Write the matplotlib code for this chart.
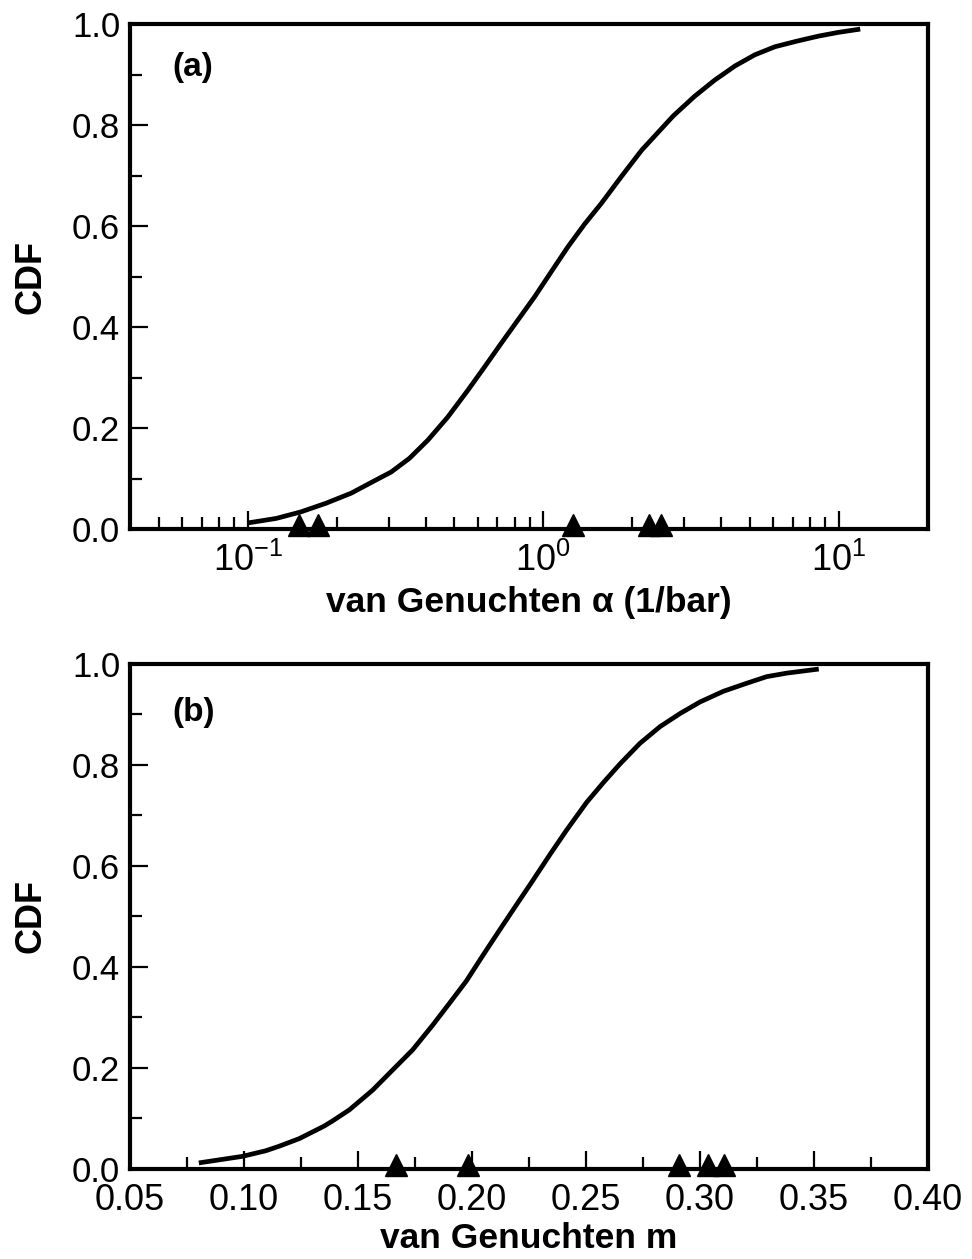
import matplotlib
matplotlib.use("Agg")
import matplotlib.pyplot as plt
from matplotlib.ticker import FixedLocator, MultipleLocator, FormatStrFormatter, LogLocator
from matplotlib.transforms import ScaledTranslation


# panel (a): van Genuchten alpha (1/bar)
alpha_x = [0.100, 0.125, 0.1515, 0.184, 0.224, 0.2616, 0.306, 0.3526, 0.407,
           0.4757, 0.556, 0.633, 0.721, 0.821, 0.935, 1.064, 1.212, 1.38,
           1.572, 1.837, 2.15, 2.75, 3.25, 3.80, 4.45, 5.19, 6.07, 7.19,
           8.51, 9.95, 11.8]
alpha_cdf = [0.012, 0.021, 0.034, 0.051, 0.071, 0.092, 0.113, 0.140, 0.176,
             0.222, 0.275, 0.321, 0.368, 0.414, 0.460, 0.5095, 0.559, 0.604,
             0.645, 0.698, 0.750, 0.818, 0.857, 0.889, 0.917, 0.939, 0.955, 0.966,
             0.976, 0.9835, 0.990]
alpha_obs = [0.149, 0.173, 1.26, 2.27, 2.50]

# panel (b): van Genuchten m
m_x = [0.0802, 0.0993, 0.1095, 0.1154, 0.1242, 0.1352, 0.1388, 0.1462, 0.1564,
       0.1652, 0.174, 0.1828, 0.1901, 0.1975, 0.2048, 0.2121, 0.2195, 0.2268,
       0.2341, 0.2415, 0.2503, 0.2576, 0.2649, 0.2737, 0.2825, 0.2913, 0.3001,
       0.3103, 0.3206, 0.3293, 0.3382, 0.3521]
m_cdf = [0.012, 0.025, 0.036, 0.045, 0.060, 0.085, 0.095, 0.117, 0.156,
         0.196, 0.236, 0.285, 0.328, 0.372, 0.423, 0.473, 0.523, 0.572,
         0.622, 0.671, 0.726, 0.765, 0.802, 0.843, 0.876, 0.902, 0.925,
         0.946, 0.962, 0.975, 0.982, 0.990]
m_obs = [0.1667, 0.1982, 0.2909, 0.3034, 0.3104]

m_ticks = [0.05, 0.10, 0.15, 0.20, 0.25, 0.30, 0.35, 0.40]
cdf_ticks = [0.0, 0.2, 0.4, 0.6, 0.8, 1.0]

plt.rcParams["font.family"] = ["Liberation Sans", "DejaVu Sans"]
plt.rcParams["mathtext.fontset"] = "custom"
plt.rcParams["mathtext.rm"] = "Liberation Sans"


def style_axes(ax):
    for side in ax.spines.values():
        side.set_linewidth(3)
    ax.tick_params(which="both", direction="in", top=False, right=False,
                   width=1.6)
    ax.tick_params(which="major", length=13)
    ax.tick_params(which="minor", length=8.5)
    ax.tick_params(axis="x", labelsize=26, pad=10)
    ax.tick_params(axis="y", labelsize=25, pad=7)
    ax.set_ylim(0, 1)
    ax.yaxis.set_major_locator(FixedLocator(cdf_ticks))
    ax.yaxis.set_minor_locator(MultipleLocator(0.1))
    ax.yaxis.set_major_formatter(FormatStrFormatter("%.1f"))
    ax.set_ylabel("CDF", fontsize=26, fontweight="bold")
    ax.yaxis.set_label_coords(-0.102, 0.5)


def main():
    fig = plt.figure(figsize=(9.72, 12.59), dpi=100)
    ax1 = fig.add_axes([0.1337, 0.5798, 0.8210, 0.4011])
    ax2 = fig.add_axes([0.1337, 0.0715, 0.8210, 0.4011])

    lift = ScaledTranslation(0, 3 / 72, fig.dpi_scale_trans)

    # (a)
    ax1.set_xscale("log")
    ax1.set_xlim(0.04, 20)
    ax1.xaxis.set_major_locator(LogLocator(base=10, numticks=10))
    ax1.xaxis.set_minor_locator(LogLocator(base=10, subs=range(2, 10), numticks=20))
    ax1.plot(alpha_x, alpha_cdf, color="black", lw=3.4, solid_capstyle="butt")
    ax1.plot(alpha_obs, [0] * len(alpha_obs), ls="none", marker="^",
             ms=16, color="black", clip_on=False, zorder=5,
             transform=ax1.transData + lift)
    style_axes(ax1)
    ax1.set_xlabel("van Genuchten \u03b1 (1/bar)", fontsize=25.5,
                   fontweight="bold", labelpad=5)
    ax1.text(0.053, 0.913, "(a)", transform=ax1.transAxes, fontsize=24,
             fontweight="bold", va="center", ha="left")

    # (b)
    ax2.set_xlim(0.05, 0.40)
    ax2.xaxis.set_major_locator(FixedLocator(m_ticks))
    ax2.xaxis.set_minor_locator(MultipleLocator(0.025))
    ax2.xaxis.set_major_formatter(FormatStrFormatter("%.2f"))
    ax2.plot(m_x, m_cdf, color="black", lw=3.4, solid_capstyle="butt")
    ax2.plot(m_obs, [0] * len(m_obs), ls="none", marker="^",
             ms=16, color="black", clip_on=False, zorder=5,
             transform=ax2.transData + lift)
    style_axes(ax2)
    ax2.set_xlabel("van Genuchten m", fontsize=25.5, fontweight="bold",
                   labelpad=3)
    ax2.text(0.053, 0.903, "(b)", transform=ax2.transAxes, fontsize=24,
             fontweight="bold", va="center", ha="left")

    fig.savefig("out.png", dpi=100)
    plt.close(fig)


if __name__ == "__main__":
    main()
